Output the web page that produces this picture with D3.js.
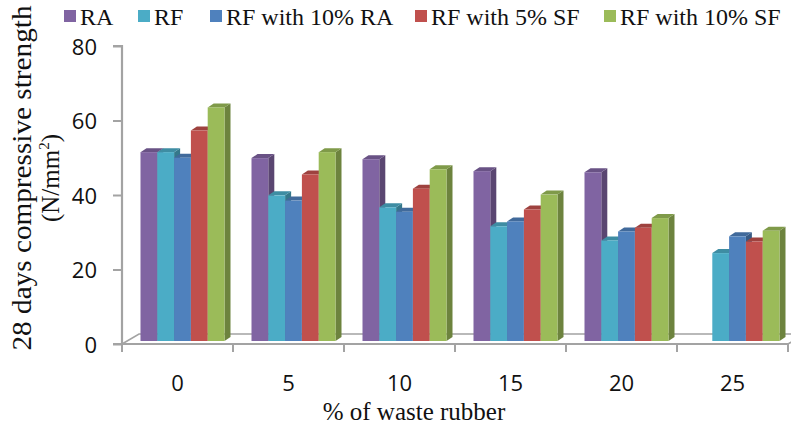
<!DOCTYPE html>
<html>
<head>
<meta charset="utf-8">
<script src="https://cdn.jsdelivr.net/npm/d3@7"></script>
<style>
  html, body { margin: 0; padding: 0; background: #fff; }
  svg { display: block; }
</style>
</head>
<body>
<svg id="chart" width="791" height="427"></svg>
<script>
// Percent replacement of waste rubber
const categories = ["0", "5", "10", "15", "20", "25"];
const seriesNames = ["RA", "RF", "RF with 10% RA", "RF with 5% SF", "RF with 10% SF"];
const seriesColors = ["#8064A2", "#4BACC6", "#4F81BD", "#C0504D", "#9BBB59"];
// 28-day compressive strength (N/mm²)
const valuesRA      = [50.7, 49.1, 48.8, 45.6, 45.3, null];
const valuesRF      = [50.7, 39.1, 35.9, 30.8, 27.0, 23.6];
const valuesRF10RA  = [49.2, 37.7, 34.7, 32.1, 29.4, 28.1];
const valuesRF5SF   = [56.5, 44.7, 40.9, 35.3, 30.4, 26.7];
const valuesRF10SF  = [62.7, 50.7, 46.1, 39.3, 33.0, 29.6];
const yTicks = [0, 20, 40, 60, 80];

const seriesValues = [valuesRA, valuesRF, valuesRF10RA, valuesRF5SF, valuesRF10SF];

const svg = d3.select("#chart");
const serif = "'Liberation Serif', 'Times New Roman', serif";
const sans = "'Open Sans', 'Noto Sans', sans-serif";
const axisGrey = "#a3a3a3";

const plotLeft = 122, plotRight = 788, plotTop = 46, plotBase = 344;
// floor depth (3D offset of the back edge)
const floorDx = 17, floorDy = -10;
// bars stand a little behind the front edge and have their own depth
const frontDx = 5, frontDy = -3;
const barDx = 6, barDy = -4;

const x0 = d3.scaleBand().domain(categories).range([plotLeft, plotRight]).padding(0);
const x1 = d3.scaleBand().domain(seriesNames).range([13.5, x0.bandwidth() - 13.5]).padding(0);
const y = d3.scaleLinear().domain([0, 80]).range([plotBase, plotTop]);

// floor slab
const floor = svg.append("g");
floor.append("path")
  .attr("d", `M${plotLeft},${plotBase} L${plotLeft + floorDx},${plotBase + floorDy} L${plotRight + floorDx},${plotBase + floorDy} L${plotRight},${plotBase} Z`)
  .attr("fill", "#fff").attr("stroke", axisGrey).attr("stroke-width", 1.6);

// bars
const bars = svg.append("g");
categories.forEach((cat, ci) => {
  seriesNames.forEach((name, si) => {
    const v = seriesValues[si][ci];
    if (v == null) return;
    const col = d3.color(seriesColors[si]);
    const xl = x0(cat) + x1(name) + frontDx;
    const w = x1.bandwidth();
    const yt = y(v) + frontDy;
    const yb = y(0) + frontDy;
    // side face
    bars.append("path")
      .attr("d", `M${xl + w},${yt} L${xl + w + barDx},${yt + barDy} L${xl + w + barDx},${yb + barDy} L${xl + w},${yb} Z`)
      .attr("fill", col.darker(1.0).formatHex());
    // top face
    bars.append("path")
      .attr("d", `M${xl},${yt} L${xl + barDx},${yt + barDy} L${xl + w + barDx},${yt + barDy} L${xl + w},${yt} Z`)
      .attr("fill", col.darker(0.55).formatHex());
    // front face
    bars.append("rect")
      .attr("x", xl).attr("y", yt)
      .attr("width", w).attr("height", yb - yt)
      .attr("fill", col.formatHex());
  });
});

// value axis
const yAxis = svg.append("g").attr("transform", `translate(${plotLeft},0)`)
  .call(d3.axisLeft(y).tickValues(yTicks).tickSize(9).tickPadding(16));
yAxis.select(".domain").attr("stroke", axisGrey).attr("stroke-width", 2.2)
  .attr("d", `M-9,${plotTop}H0V${plotBase}H-9`);
yAxis.selectAll(".tick line").attr("stroke", axisGrey).attr("stroke-width", 2);
yAxis.selectAll(".tick text")
  .attr("font-family", sans).attr("font-size", 22).attr("fill", "#111")
  .attr("dy", "0.38em");

// category axis
const xAxis = svg.append("g").attr("transform", `translate(0,${plotBase})`)
  .call(d3.axisBottom(x0).tickSize(0).tickPadding(31));
xAxis.select(".domain").remove();
xAxis.selectAll(".tick text")
  .attr("font-family", sans).attr("font-size", 22).attr("fill", "#111");
const boundaries = categories.map(c => x0(c)).concat([plotRight]);
xAxis.selectAll(".sep").data(boundaries).enter().append("line")
  .attr("x1", d => d).attr("x2", d => d).attr("y1", 0).attr("y2", 8)
  .attr("stroke", axisGrey).attr("stroke-width", 2);
xAxis.append("line").attr("x1", plotLeft - 9).attr("x2", plotRight).attr("y1", 0).attr("y2", 0)
  .attr("stroke", axisGrey).attr("stroke-width", 2);

// axis titles
svg.append("text")
  .attr("x", 414).attr("y", 420).attr("text-anchor", "middle")
  .attr("font-family", serif).attr("font-size", 25).attr("fill", "#111")
  .text("% of waste rubber");

const yTitle = svg.append("g").attr("transform", "translate(0,178) rotate(-90)");
yTitle.append("text")
  .attr("x", 0).attr("y", 31).attr("text-anchor", "middle")
  .attr("font-family", serif).attr("font-size", 28).attr("fill", "#111")
  .attr("textLength", 345).attr("lengthAdjust", "spacingAndGlyphs")
  .text("28 days compressive strength");
const unit = yTitle.append("text")
  .attr("x", 0).attr("y", 59).attr("text-anchor", "middle")
  .attr("font-family", serif).attr("font-size", 25).attr("fill", "#111");
unit.append("tspan").text("(N/mm");
unit.append("tspan").attr("font-size", 15).attr("dy", -10).text("2");
unit.append("tspan").attr("dy", 10).text(")");

// legend
const legendX = [64, 138, 210, 415, 604];
const legend = svg.append("g");
seriesNames.forEach((name, i) => {
  legend.append("rect")
    .attr("x", legendX[i]).attr("y", 10).attr("width", 12).attr("height", 12)
    .attr("fill", seriesColors[i]);
  legend.append("text")
    .attr("x", legendX[i] + 16).attr("y", 25)
    .attr("font-family", serif).attr("font-size", 24).attr("fill", "#111")
    .text(name);
});
</script>
</body>
</html>
